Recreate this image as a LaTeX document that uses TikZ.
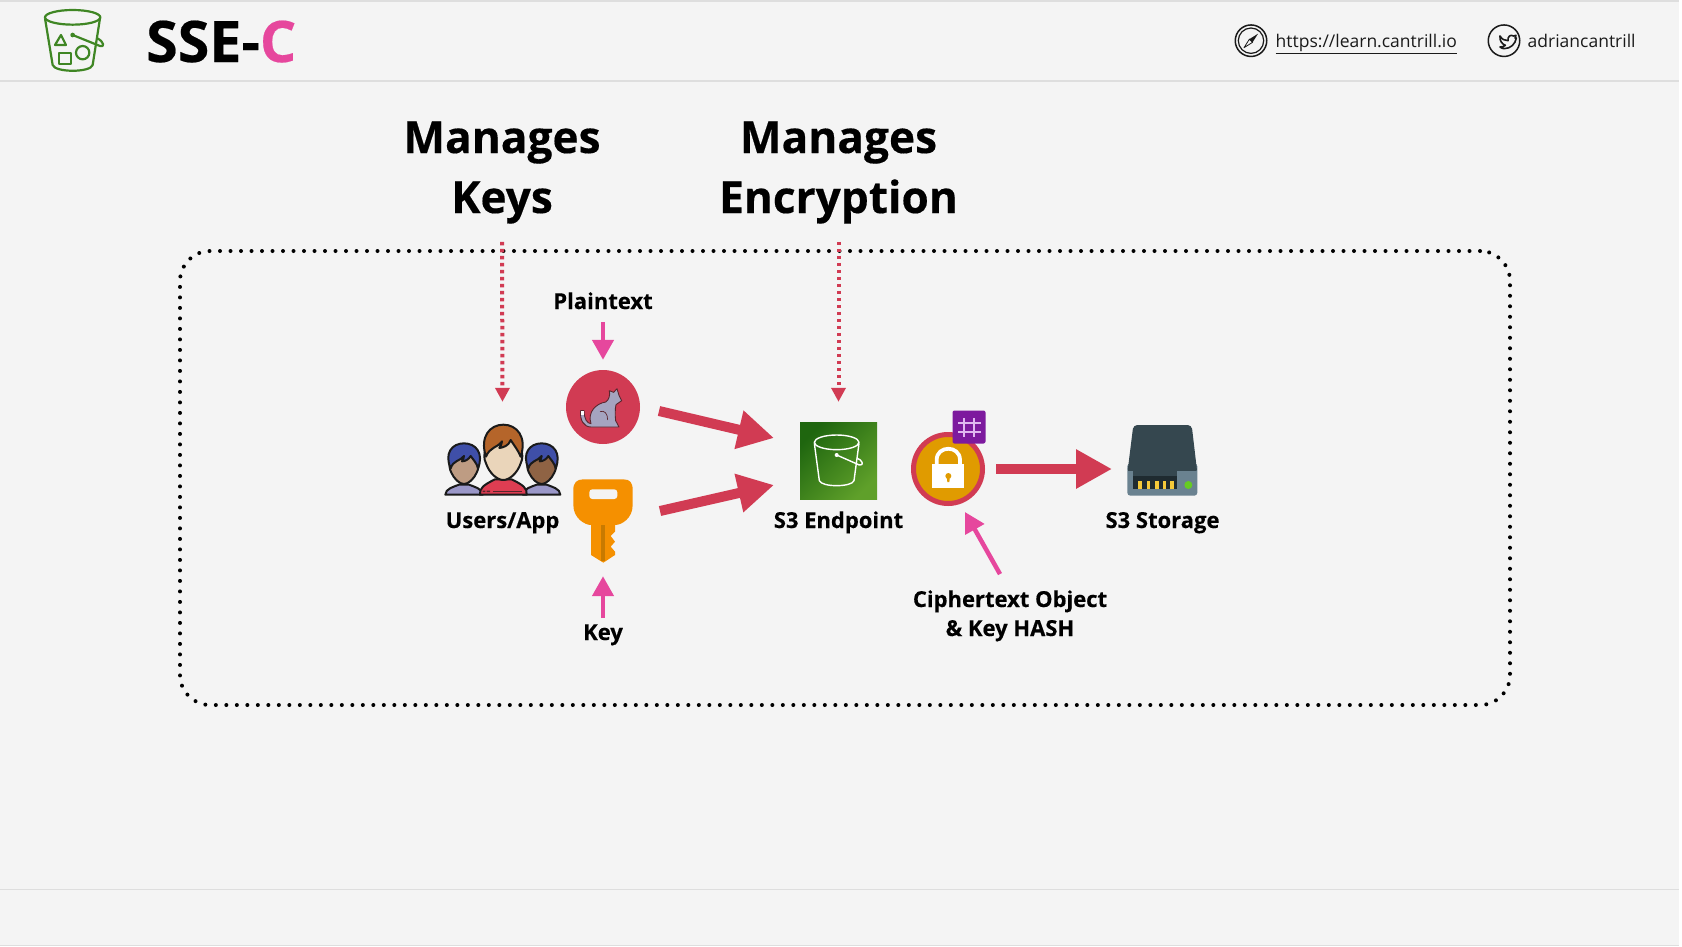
\documentclass[tikz,border=0pt]{standalone}
\usepackage{fontspec}
\setmainfont[BoldFeatures={FakeBold=0.35}]{Open Sans}
\usetikzlibrary{arrows.meta}
\definecolor{bgc}{HTML}{F4F4F4}
\definecolor{rulec}{HTML}{DEDEDE}
\definecolor{redc}{HTML}{D13B53}
\definecolor{pinkc}{HTML}{E6479D}
\definecolor{awsgreen}{HTML}{3F8624}
\definecolor{keyc}{HTML}{F59000}
\definecolor{keyd}{HTML}{C87A00}
\definecolor{lockc}{HTML}{E09B00}
\definecolor{hashc}{HTML}{7D1A9E}
\definecolor{hashl}{HTML}{E0B8F0}
\definecolor{stdark}{HTML}{35474F}
\definecolor{stmid}{HTML}{6A8290}
\definecolor{brownh}{HTML}{B5652A}
\definecolor{blueh}{HTML}{3F4FA8}
\definecolor{shirt}{HTML}{DE3D52}
\definecolor{lilac}{HTML}{9A97C8}
\definecolor{catc}{HTML}{A5A4C0}
\definecolor{ink}{HTML}{1A1A1A}
\definecolor{facemain}{HTML}{EAD5BA}
\definecolor{epdark}{HTML}{1F660F}
\definecolor{eplight}{HTML}{5FA02A}
\definecolor{slotc}{HTML}{1F2B30}
\definecolor{yelc}{HTML}{F5C93A}
\definecolor{grnc}{HTML}{66CC22}
\tikzset{
  x=1pt,y=-1pt,
  lab/.style={inner sep=0pt,anchor=base,font=\fontsize{22}{22}\selectfont\bfseries,text=black},
  headlab/.style={inner sep=0pt,anchor=base,font=\fontsize{44.2}{44}\selectfont\bfseries,text=black},
  toptext/.style={inner sep=0pt,anchor=base west,font=\fontsize{17.5}{18}\selectfont,text=ink},
  bigarrow/.style={draw=redc,line width=10pt,-{Triangle[length=36pt,width=37pt,fill=redc]}},
  pinkarrow/.style={draw=pinkc,line width=4.5pt,-{Triangle[length=20pt,width=21pt,fill=pinkc]}},
  dotarrow/.style={draw=redc,line width=4pt,dash pattern=on 3.5pt off 3.5pt,-{Triangle[length=14pt,width=14pt,fill=redc]}},
  iconbox/.style={inner sep=0pt,minimum width=#1},
  outl/.style={draw=ink,line width=2pt,line join=round},
}
\begin{document}
\begin{tikzpicture}
\useasboundingbox (0,0) rectangle (1682,946);
\fill[bgc] (0,0) rectangle (1679,946);
\fill[white] (1679,0) rectangle (1682,946);
% rules
\fill[rulec] (0,0) rectangle (1679,1.5);
\fill[rulec] (0,80) rectangle (1679,81.5);
\fill[rulec] (0,888.5) rectangle (1679,890);
\fill[rulec] (0,944.5) rectangle (1679,946);
% header bucket
\begin{scope}[scale=1/3,draw=awsgreen,line width=2.2pt,line join=round]
  \draw (218,52) ellipse [x radius=83,y radius=22];
  \draw (135,55) -- (158,195) .. controls (165,218) and (272,218) .. (278,195) -- (300,55);
  \draw (218,105) -- (300,138) .. controls (315,143) and (312,125) .. (292,115);
  \fill[awsgreen] (218,105) circle (7);
  \draw (183,105) -- (165,135) -- (198,135) -- cycle;
  \draw (178,160) rectangle (212,192);
  \draw (248,158) circle (20);
\end{scope}
\node[inner sep=0pt,anchor=base west,font=\fontsize{57.3}{57}\selectfont\bfseries] (title) at (146,62) {SSE-\textcolor{pinkc}{C}};
% compass
\node[circle,draw=ink,line width=1.5pt,minimum size=31.5pt,inner sep=0pt] (compass) at (1251,40.7) {};
\draw[ink,line width=1.2pt] (compass.center) circle (12.7);
\fill[ink] (1258,33.7) -- (1252.6,42.3) -- (1249.4,39.1) -- cycle;
\draw[ink,line width=.8pt,line join=round] (1244,47.7) -- (1249.4,39.1) -- (1252.6,42.3) -- cycle;
\node[toptext] (url) at (1275.5,47.5) {\underline{https://learn.cantrill.io}};
% twitter
\node[circle,draw=ink,line width=1.5pt,minimum size=31.5pt,inner sep=0pt] (bird) at (1504,40.7) {};
\begin{scope}[shift={(1490,22)},scale=1/3]
  \draw[ink,line width=1.6pt,line join=round,line cap=round]
   (30,42) .. controls (36,52) and (44,56) .. (54,56)
   .. controls (52,44) and (62,36) .. (70,42) -- (78,40) -- (75,48) -- (79,48)
   .. controls (76,66) and (62,80) .. (42,80) .. controls (38,80) and (34,78) .. (30,75)
   .. controls (38,75) and (42,73) .. (46,70) .. controls (36,66) and (28,56) .. (30,42) -- cycle;
\end{scope}
\node[toptext] (handle) at (1527.5,47.5) {adriancantrill};
% headings
\node[headlab] (mk1) at (502,153) {Manages};
\node[headlab] (mk2) at (502,213) {Keys};
\node[headlab] (me1) at (838.5,153) {Manages};
\node[headlab] (me2) at (838.5,213) {Encryption};
% frame
\node[draw=black,line width=4pt,line cap=round,dash pattern=on 0pt off 10.5pt,rounded corners=30pt,
      minimum width=1330pt,minimum height=454pt,inner sep=0pt] (frame) at (845,478) {};
% users
\node[iconbox=115pt,minimum height=71pt] (users) at (502.5,460.5) {};
\begin{scope}[shift={(440,420)},scale=1/3]
  \foreach \cx/\fc in {72/BE9C83,305/8F6344}{
    \definecolor{facec}{HTML}{\fc}
    \begin{scope}[shift={(\cx,0)}]
    \path[fill=lilac,outl] (-56,224) .. controls (-56,206) and (-30,200) .. (-15,194) -- (15,194)
      .. controls (30,200) and (56,206) .. (56,224) -- cycle;
    \path[fill=facec,outl] (0,100) .. controls (-48,100) and (-48,140) .. (-38,158)
      .. controls (-30,176) and (-14,192) .. (0,192) .. controls (14,192) and (30,176) .. (38,158)
      .. controls (48,140) and (48,100) .. (0,100) -- cycle;
    \path[fill=blueh,outl] (-40,145) .. controls (-60,100) and (-36,70) .. (0,70)
      .. controls (36,70) and (60,100) .. (42,145) .. controls (38,128) and (28,120) .. (20,108)
      .. controls (14,118) and (4,124) .. (-6,124) .. controls (-3,118) and (0,114) .. (0,108)
      .. controls (-12,124) and (-32,120) .. (-40,145) -- cycle;
    \end{scope}
  }
  \path[fill=shirt,outl] (120,224) .. controls (118,205) and (130,195) .. (165,178) -- (215,178)
    .. controls (250,195) and (262,205) .. (260,224) -- cycle;
  \draw[draw=ink!70!shirt,line width=1.1pt] (158,214) -- (245,214);
  \path[fill=ink!70!shirt] (128,212) rectangle (136,216) (140,212) rectangle (150,216);
  \path[fill=facemain,outl] (190,60) .. controls (135,60) and (125,105) .. (138,130)
    .. controls (148,160) and (172,180) .. (190,180) .. controls (208,180) and (232,160) .. (242,130)
    .. controls (255,105) and (245,60) .. (190,60) -- cycle;
  \path[fill=brownh,outl] (138,110) .. controls (118,50) and (150,14) .. (190,14)
    .. controls (230,14) and (262,50) .. (242,110) .. controls (234,90) and (222,76) .. (212,60)
    .. controls (206,78) and (190,82) .. (178,84) .. controls (182,78) and (186,72) .. (186,64)
    .. controls (172,84) and (150,80) .. (138,110) -- cycle;
\end{scope}
\node[lab] (userslab) at (502.5,528) {Users/App};
% plaintext cat
\node[lab] (plain) at (603,309) {Plaintext};
\node[circle,fill=redc,minimum size=74pt,inner sep=0pt] (cat) at (603,407) {};
\begin{scope}[shift={(565,370)},scale=1/3]
  \path[fill=catc,draw=ink!65!redc,line width=.9pt,line join=round]
    (47,122) .. controls (44,150) and (56,171) .. (78,171) -- (162,171) -- (152,152)
    .. controls (150,135) and (150,118) .. (153,104) -- (170,92) -- (162,76) -- (156,56) -- (146,67) -- (133,62)
    .. controls (136,75) and (132,90) .. (122,96)
    .. controls (95,100) and (66,125) .. (78,161)
    .. controls (66,160) and (58,148) .. (57,122) -- cycle;
  \fill[white] (47,122) -- (57,122) -- (57,134) -- (47,134) -- cycle;
  \draw[ink!65!redc,line width=.7pt] (105,125) .. controls (118,120) and (128,130) .. (128,150);
\end{scope}
\draw[pinkarrow] ([shift={(0,13)}]plain.south) -- ([shift={(0,-10)}]cat.north);
% key
\node[iconbox=60pt,minimum height=84pt] (keyicon) at (603,521) {};
\begin{scope}[shift={(420,350)},scale=1/3]
  \fill[keyc] (513,525) -- (513,615) -- (550,638) -- (585,615) -- (585,605) -- (572,590) -- (585,575)
    -- (572,558) -- (585,545) -- (585,525) -- cycle;
  \fill[keyc] (490,388) -- (610,388) .. controls (630,388) and (638,398) .. (638,420) -- (638,465)
    .. controls (638,505) and (605,525) .. (585,525) -- (513,525)
    .. controls (495,525) and (460,505) .. (460,465) -- (460,420)
    .. controls (460,398) and (470,388) .. (490,388) -- cycle;
  \fill[keyd] (544,525) rectangle (556,632);
  \fill[bgc,rounded corners=3pt] (508,418) rectangle (592,447);
\end{scope}
\node[lab] (keylab) at (603,640) {Key};
\draw[pinkarrow] ([shift={(0,-6)}]keylab.north) -- ([shift={(0,13)}]keyicon.south);
% endpoint
\node[rectangle,minimum size=77pt,inner sep=0pt,left color=epdark,right color=eplight,shading angle=45] (ep) at (838.5,460.5) {};
\begin{scope}[shift={(780,390)},scale=1/3,draw=white,line width=1.4pt,line join=round]
  \draw (170,157) ellipse [x radius=67,y radius=22];
  \draw (103,160) -- (118,272) .. controls (125,292) and (215,292) .. (222,272) -- (237,160);
  \draw (170,195) -- (238,225) .. controls (255,228) and (245,208) .. (232,205);
  \fill[white] (170,195) circle (6);
\end{scope}
\node[lab] (eplab) at (838.5,528) {S3 Endpoint};
% lock
\node[circle,draw=redc,fill=lockc,line width=5pt,minimum size=69pt,inner sep=0pt] (lock) at (948,469) {};
\begin{scope}[shift={(780,390)},scale=1/3]
  \draw[white,line width=3.8pt] (470,225) -- (470,210) .. controls (470,165) and (540,165) .. (540,210) -- (540,225);
  \fill[white] (457,222) rectangle (552,295);
  \fill[lockc] (505,258) circle (9) (500,258) -- (510,258) -- (508,276) -- (502,276) -- cycle;
\end{scope}
\node[rectangle,fill=hashc,rounded corners=2pt,minimum size=33pt,inner sep=0pt] (hash) at (969,427) {};
\begin{scope}[shift={(780,390)},scale=1/3,draw=hashl,line width=1.7pt]
  \draw (553,85) -- (553,140) (583,85) -- (583,140) (535,100) -- (603,100) (535,125) -- (603,125);
\end{scope}
\node[lab] (c1) at (1010,607) {Ciphertext Object};
\node[lab] (c2) at (1010,636) {\&~Key HASH};
% storage
\node[iconbox=69pt,minimum height=70pt] (st) at (1162.5,460) {};
\begin{scope}[shift={(1120,420)},scale=1/3]
  \fill[stmid,rounded corners=3pt] (22,130) rectangle (232,227);
  \fill[stdark,rounded corners=4pt] (22,160) -- (40,15) -- (215,15) -- (232,160) -- cycle;
  \fill[stmid] (170,152) rectangle (231,170);
  \fill[stmid] (23,152) rectangle (40,172);
  \fill[slotc] (40,150) rectangle (170,208);
  \fill[stdark] (40,150) rectangle (170,168);
  \foreach \tx in {55,80,105,128,150}{\fill[yelc] (\tx,183) rectangle +(11,24);}
  \fill[grnc] (205,195) circle (12);
\end{scope}
\node[lab] (stlab) at (1162.5,528) {S3 Storage};
% connectors
\draw[dotarrow] ([shift={(0,18)}]mk2.south) -- ([shift={(0,-23)}]users.north);
\draw[dotarrow] ([shift={(0,18)}]me2.south) -- ([shift={(0,-20)}]ep.north);
\draw[bigarrow] ([shift={(56,4)}]cat.center) -- ([shift={(-64.5,-22.5)}]ep.center);
\draw[bigarrow] ([shift={(57,-10)}]keyicon.center) -- ([shift={(-64.5,24.5)}]ep.center);
\draw[bigarrow] ([shift={(48,0)}]lock.center) -- ([shift={(-50.5,9)}]st.center);
\draw[pinkarrow] ([shift={(-10,-16)}]c1.north) -- ([shift={(17,43)}]lock.center);
\end{tikzpicture}
\end{document}
